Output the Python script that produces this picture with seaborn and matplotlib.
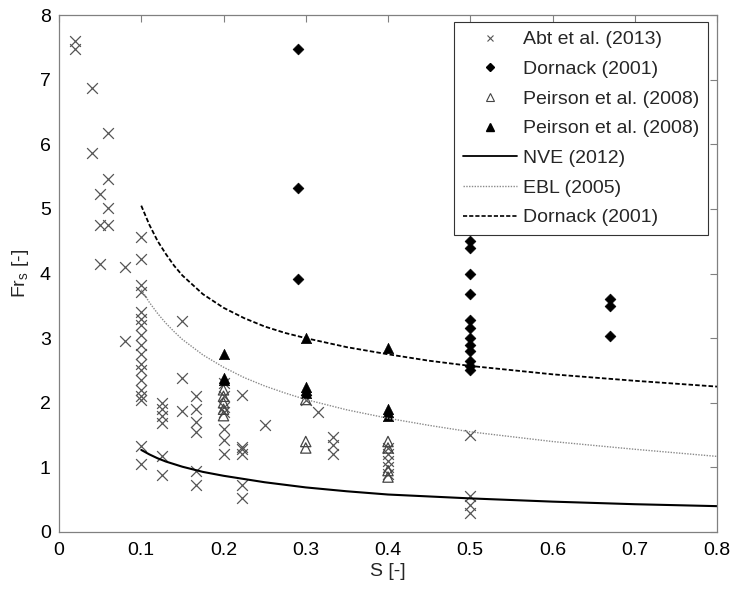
import numpy as np
import pandas as pd
import matplotlib
matplotlib.use("Agg")
import matplotlib.pyplot as plt
import seaborn as sns
from matplotlib.lines import Line2D

# ---- data ----
abt_S = [0.02, 0.02, 0.04, 0.04, 0.06, 0.06, 0.05, 0.06, 0.05, 0.06, 0.05, 0.08, 0.08,
         0.1, 0.1, 0.1, 0.1, 0.1, 0.1, 0.1, 0.1, 0.1, 0.1, 0.1, 0.1, 0.1, 0.1, 0.1, 0.1, 0.1, 0.1,
         0.125, 0.125, 0.125, 0.125, 0.125, 0.125,
         0.15, 0.15, 0.15,
         0.167, 0.167, 0.167, 0.167, 0.167, 0.167,
         0.2, 0.2, 0.2, 0.2, 0.2, 0.2, 0.2,
         0.222, 0.222, 0.222, 0.222, 0.222, 0.222,
         0.25, 0.3, 0.315, 0.333, 0.333, 0.333,
         0.4, 0.4, 0.4, 0.4, 0.4,
         0.5, 0.5, 0.5, 0.5]
abt_Fr = [7.6, 7.48, 6.87, 5.87, 6.17, 5.47, 5.23, 5.02, 4.75, 4.75, 4.15, 4.1, 2.95,
          4.57, 4.22, 3.82, 3.72, 3.4, 3.3, 3.2, 3.05, 2.9, 2.75, 2.6, 2.5, 2.35, 2.2, 2.1, 2.05, 1.33, 1.05,
          2.0, 1.9, 1.8, 1.68, 1.17, 0.88,
          3.27, 2.38, 1.87,
          2.1, 1.9, 1.7, 1.55, 0.95, 0.72,
          2.3, 2.1, 1.93, 1.85, 1.6, 1.42, 1.2,
          2.12, 1.32, 1.28, 1.2, 0.73, 0.52,
          1.65, 2.05, 1.85, 1.47, 1.35, 1.2,
          1.3, 1.2, 1.1, 1.0, 0.9,
          1.5, 0.55, 0.42, 0.3]

dor_S = [0.29, 0.29, 0.29,
         0.5, 0.5, 0.5, 0.5, 0.5, 0.5, 0.5, 0.5, 0.5, 0.5, 0.5, 0.5,
         0.67, 0.67, 0.67]
dor_Fr = [7.47, 5.32, 3.92,
          4.5, 4.4, 4.0, 3.68, 3.28, 3.15, 3.0, 2.9, 2.8, 2.65, 2.57, 2.5,
          3.6, 3.5, 3.03]

pei_open_S = [0.2, 0.2, 0.2, 0.2, 0.2, 0.3, 0.3, 0.3, 0.4, 0.4, 0.4, 0.4]
pei_open_Fr = [2.2, 2.1, 2.0, 1.9, 1.8, 2.05, 1.4, 1.3, 1.4, 1.3, 0.95, 0.85]

pei_fill_S = [0.2, 0.2, 0.2, 0.3, 0.3, 0.3, 0.3, 0.4, 0.4, 0.4, 0.4]
pei_fill_Fr = [2.75, 2.38, 2.35, 3.0, 2.25, 2.2, 2.15, 2.85, 1.9, 1.85, 1.8]

curve_S = [0.1, 0.11, 0.12, 0.13, 0.14, 0.15, 0.175, 0.2, 0.225, 0.25, 0.275, 0.3, 0.35, 0.4,
           0.45, 0.5, 0.6, 0.7, 0.8]
nve_Fr = [1.27, 1.2, 1.14, 1.09, 1.05, 1.01, 0.93, 0.87, 0.82, 0.77, 0.73, 0.69, 0.63, 0.58,
          0.55, 0.52, 0.47, 0.43, 0.40]
ebl_Fr = [3.75, 3.55, 3.38, 3.23, 3.1, 2.98, 2.74, 2.55, 2.39, 2.26, 2.15, 2.05, 1.89, 1.76,
          1.65, 1.55, 1.4, 1.28, 1.17]
dorc_Fr = [5.05, 4.75, 4.5, 4.3, 4.12, 3.97, 3.68, 3.47, 3.31, 3.18, 3.08, 3.0, 2.86, 2.75,
           2.65, 2.57, 2.44, 2.34, 2.25]

xticks = [0, 0.1, 0.2, 0.3, 0.4, 0.5, 0.6, 0.7, 0.8]
xticklabels = ["0", "0.1", "0.2", "0.3", "0.4", "0.5", "0.6", "0.7", "0.8"]
yticks = [0, 1, 2, 3, 4, 5, 6, 7, 8]

# ---- plot ----
sns.set_style("white")
plt.rcParams['font.family'] = ['Liberation Sans', 'DejaVu Sans']

fig = plt.figure(figsize=(7.33, 5.89), dpi=100)
ax = fig.add_axes([59/733, 1-532/589, (717-59)/733, (532-15)/589])

curves = pd.DataFrame({"S": curve_S, "nve": nve_Fr, "ebl": ebl_Fr, "dor": dorc_Fr})
sns.lineplot(data=curves, x="S", y="ebl", ax=ax, color="#8a8a8a", lw=1.0,
             linestyle=(0, (1, 1)), sort=False, estimator=None, legend=False)
sns.lineplot(data=curves, x="S", y="dor", ax=ax, color="black", lw=1.3,
             linestyle=(0, (2.5, 1.2)), sort=False, estimator=None, legend=False)
sns.lineplot(data=curves, x="S", y="nve", ax=ax, color="black", lw=1.5,
             sort=False, estimator=None, legend=False)

sns.scatterplot(x=abt_S, y=abt_Fr, ax=ax, marker="x", color="#555555", s=60,
                linewidth=0.9, legend=False)
sns.scatterplot(x=pei_open_S, y=pei_open_Fr, ax=ax, marker="^", facecolor="none",
                edgecolor="#444444", s=55, linewidth=0.9, legend=False)
sns.scatterplot(x=pei_fill_S, y=pei_fill_Fr, ax=ax, marker="^", color="black",
                edgecolor="black", s=55, linewidth=0.5, legend=False)
sns.scatterplot(x=dor_S, y=dor_Fr, ax=ax, marker="D", color="black",
                edgecolor="black", s=30, linewidth=0.5, legend=False)

ax.set_xlim(0, 0.8)
ax.set_ylim(0, 8)
ax.set_xticks(xticks)
ax.set_xticklabels(xticklabels)
ax.set_yticks(yticks)
ax.tick_params(direction="in", length=5, width=0.8, color="#808080",
               top=True, right=True, labelsize=14, labelcolor="black")
ax.tick_params(axis="x", pad=7)
ax.tick_params(axis="y", pad=6)
for sp in ax.spines.values():
    sp.set_visible(True)
    sp.set_color("#808080")
    sp.set_linewidth(0.9)

ax.set_xlabel("S [-]", fontsize=14, labelpad=3)
ax.set_ylabel("Fr$_\\mathregular{s}$ [-]", fontsize=14, labelpad=6)

handles = [
    Line2D([], [], marker="x", color="#555555", ls="none", markersize=5, mew=0.8),
    Line2D([], [], marker="D", color="black", ls="none", markersize=4.5),
    Line2D([], [], marker="^", markerfacecolor="none", markeredgecolor="#444444", ls="none", markersize=6, mew=0.8),
    Line2D([], [], marker="^", color="black", ls="none", markersize=6),
    Line2D([], [], color="black", lw=1.3),
    Line2D([], [], color="#8a8a8a", lw=1.0, linestyle=(0, (1, 1))),
    Line2D([], [], color="black", lw=1.2, linestyle=(0, (2.5, 1.2))),
]
labels = ["Abt et al. (2013)", "Dornack (2001)", "Peirson et al. (2008)",
          "Peirson et al. (2008)", "NVE (2012)", "EBL (2005)", "Dornack (2001)"]
leg = ax.legend(handles, labels, loc="upper right",
                bbox_to_anchor=(708/733, 1-22/589), bbox_transform=fig.transFigure,
                fontsize=14, frameon=True, fancybox=False, framealpha=1,
                edgecolor="#333333", handlelength=2.8, handletextpad=0.3,
                labelspacing=0.62, borderpad=0.45, borderaxespad=0)
leg.get_frame().set_linewidth(0.8)

fig.savefig("out.png", dpi=100)
